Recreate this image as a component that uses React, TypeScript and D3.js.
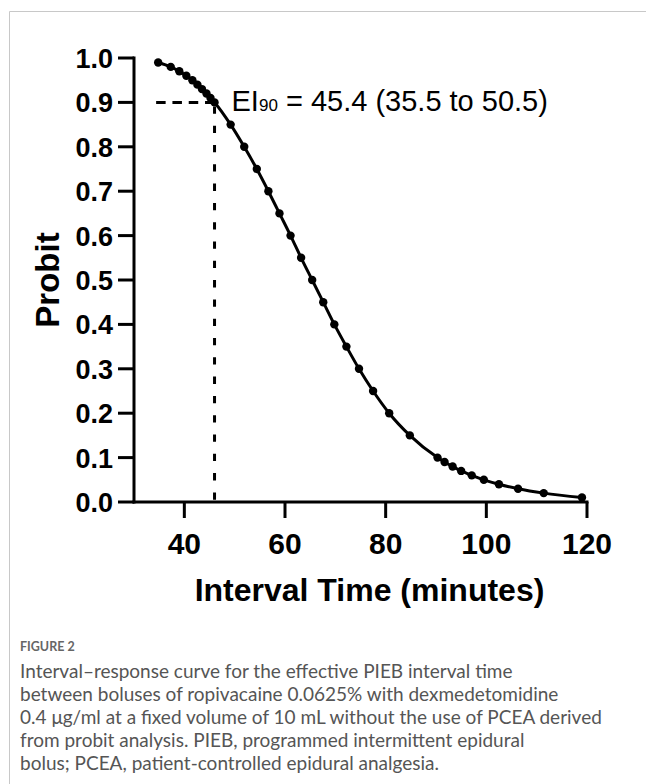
import React from 'react';
import * as d3 from 'd3';

// probit table (response probability vs interval time)
const probit = [
  0.99, 0.98, 0.97, 0.96, 0.95, 0.94, 0.93, 0.92, 0.91, 0.9,
  0.85, 0.8, 0.75, 0.7, 0.65, 0.6, 0.55, 0.5, 0.45, 0.4,
  0.35, 0.3, 0.25, 0.2, 0.15, 0.1, 0.09, 0.08, 0.07, 0.06,
  0.05, 0.04, 0.03, 0.02, 0.01,
];
const intervalTime = [
  34.8, 37.3, 39.0, 40.4, 41.6, 42.6, 43.5, 44.4, 45.2, 46.0,
  49.2, 51.9, 54.4, 56.7, 58.9, 61.1, 63.2, 65.4, 67.6, 69.8,
  72.2, 74.7, 77.5, 80.7, 84.8, 90.3, 91.7, 93.3, 95.0, 97.1,
  99.5, 102.5, 106.3, 111.4, 119.0,
];

const xTicks = [40, 60, 80, 100, 120];
const yTicks = [0, 0.1, 0.2, 0.3, 0.4, 0.5, 0.6, 0.7, 0.8, 0.9, 1.0];

// EI90 guide
const ei90Time = 46.0;
const ei90Level = 0.9;
const ei90Text = ' = 45.4 (35.5 to 50.5)';

const captionTitle = 'FIGURE 2';
const captionLines = [
  'Interval\u2013response curve for the effective PIEB interval time',
  'between boluses of ropivacaine 0.0625% with dexmedetomidine',
  '0.4 \u03bcg/ml at a fixed volume of 10 mL without the use of PCEA derived',
  'from probit analysis. PIEB, programmed intermittent epidural',
  'bolus; PCEA, patient-controlled epidural analgesia.',
];

const W = 646;
const H = 784;
const plot = { left: 134, right: 587, top: 58, bottom: 502 };
const font = '"Liberation Sans", Arial, sans-serif';

export default function App() {
  const x = d3.scaleLinear().domain([30, 120]).range([plot.left, plot.right]);
  const y = d3.scaleLinear().domain([0, 1]).range([plot.bottom, plot.top]);

  const pts = intervalTime.map((t, i) => ({ t, p: probit[i] }));

  const line = d3
    .line<{ t: number; p: number }>()
    .x((d) => x(d.t))
    .y((d) => y(d.p))
    .curve(d3.curveMonotoneX);

  const tickLen = 16;

  return (
    <svg
      width={W}
      height={H}
      style={{ position: 'absolute', left: 0, top: 0, background: '#fff' }}
    >
      {/* page frame */}
      <line x1={9.5} x2={W} y1={11.5} y2={11.5} stroke="#c8c8c8" strokeWidth={1} />
      <line x1={9.5} x2={9.5} y1={11.5} y2={H} stroke="#c8c8c8" strokeWidth={1} />

      {/* guides */}
      <line
        x1={x(ei90Time)}
        x2={x(33.5)}
        y1={y(ei90Level)}
        y2={y(ei90Level)}
        stroke="#000"
        strokeWidth={3}
        strokeDasharray="9.5,6.8"
      />
      <line
        x1={x(ei90Time)}
        x2={x(ei90Time)}
        y1={y(ei90Level)}
        y2={y(0)}
        stroke="#000"
        strokeWidth={3}
        strokeDasharray="7.3,12"
        strokeDashoffset={-4}
      />

      {/* axes */}
      <g stroke="#000" strokeWidth={3} fill="none">
        <line x1={x(30)} x2={x(30)} y1={y(1) - 1.5} y2={y(0) + 1.5} />
        <line x1={x(30) - 1.5} x2={x(120) + 1.5} y1={y(0)} y2={y(0)} />
        {yTicks.map((v) => (
          <line key={'yt' + v} x1={x(30) - tickLen} x2={x(30)} y1={y(v)} y2={y(v)} />
        ))}
        {xTicks.map((v) => (
          <line key={'xt' + v} x1={x(v)} x2={x(v)} y1={y(0)} y2={y(0) + tickLen} />
        ))}
      </g>

      <g fontFamily={font} fontWeight="bold" fill="#000">
        {yTicks.map((v) => (
          <text key={'yl' + v} x={x(30) - 21} y={y(v) + 10} fontSize={27} textAnchor="end">
            {v.toFixed(1)}
          </text>
        ))}
        {xTicks.map((v) => (
          <text key={'xl' + v} x={x(v)} y={y(0) + 52} fontSize={30} textAnchor="middle">
            {v}
          </text>
        ))}
        <text
          x={(plot.left + plot.right) / 2 + 9}
          y={601}
          fontSize={32}
          textAnchor="middle"
        >
          Interval Time (minutes)
        </text>
        <text
          transform={`translate(59,${(plot.top + plot.bottom) / 2}) rotate(-90)`}
          fontSize={33}
          textAnchor="middle"
        >
          Probit
        </text>
      </g>

      {/* curve */}
      <path d={line(pts) || ''} fill="none" stroke="#000" strokeWidth={3} />
      {pts.map((d, i) => (
        <circle key={i} cx={x(d.t)} cy={y(d.p)} r={4.2} fill="#000" />
      ))}

      {/* EI90 annotation */}
      <text
        x={x(ei90Time) + 17}
        y={y(ei90Level) + 9}
        fontFamily={font}
        fontSize={29}
        fill="#000"
      >
        EI
        <tspan fontSize={17}>90</tspan>
        <tspan>{ei90Text}</tspan>
      </text>

      {/* caption */}
      <text x={20} y={651} fontFamily="Lato, sans-serif" fontSize={12.5} fontWeight={700} fill="#666">
        {captionTitle}
      </text>
      <g fontFamily="Lato, sans-serif" fontSize={19} fill="#555">
        {captionLines.map((l, i) => (
          <text key={i} x={20} y={678 + i * 23}>
            {l}
          </text>
        ))}
      </g>
    </svg>
  );
}
